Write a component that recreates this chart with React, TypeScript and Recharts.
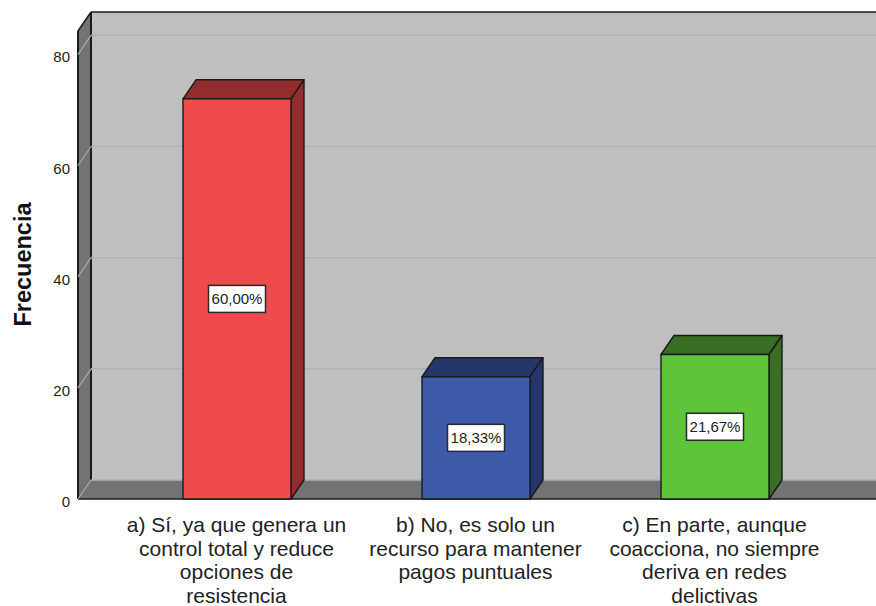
import React from "react";
import { BarChart, Bar, XAxis, YAxis, CartesianGrid, LabelList, usePlotArea } from "recharts";

const categories = [
  "a) Sí, ya que genera un\ncontrol total y reduce\nopciones de\nresistencia",
  "b) No, es solo un\nrecurso para mantener\npagos puntuales",
  "c) En parte, aunque\ncoacciona, no siempre\nderiva en redes\ndelictivas",
];
const frequencies = [72, 22, 26];
const percentLabels = ["60,00%", "18,33%", "21,67%"];
const yTicks = [0, 20, 40, 60, 80];

const rows = categories.map((category, i) => ({
  category,
  frequency: frequencies[i],
  percent: percentLabels[i],
}));

const FRONT = ["#ef4b4d", "#3e5ba9", "#5ec43a"];
const SIDE = ["#922c2d", "#25366a", "#386f22"];
const DX = 13;
const DY = 19;
const FONT = "'Liberation Sans', Arial, sans-serif";
const INK = "#1a1a1a";

function Walls() {
  const area = usePlotArea();
  if (!area) return null;
  const { x, y, width, height } = area;
  const r = x + width;
  const b = y + height;
  const bx = x + DX;
  const ty = y - DY;
  const fy = b - DY;
  return (
    <g>
      <rect x={bx} y={ty} width={r - bx} height={fy - ty} fill="#bfbfbf" />
      <polygon points={`${x},${y} ${bx},${ty} ${bx},${fy} ${x},${b}`} fill="#737373" />
      <polygon points={`${x},${b} ${bx},${fy} ${r},${fy} ${r},${b}`} fill="#737373" />
      <line x1={bx} y1={ty} x2={r} y2={ty} stroke={INK} strokeWidth={1.5} />
      <line x1={bx} y1={ty} x2={bx} y2={fy} stroke={INK} strokeWidth={2} />
      <line x1={x} y1={y} x2={bx} y2={ty} stroke={INK} strokeWidth={1.5} />
      <line x1={x} y1={y} x2={x} y2={b} stroke={INK} strokeWidth={2} />
      <line x1={x} y1={b} x2={r} y2={b} stroke={INK} strokeWidth={1.5} />
    </g>
  );
}

function GridLine(props: any) {
  const { x1, x2, y1 } = props;
  return (
    <g>
      <line x1={x1} y1={y1} x2={x1 + DX} y2={y1 - DY} stroke="#a9a9a9" strokeWidth={1.2} />
      <line x1={x1 + DX} y1={y1 - DY} x2={x2} y2={y1 - DY} stroke="#b2b2b2" strokeWidth={1.5} />
    </g>
  );
}

function Box3D(props: any) {
  const { x, y, width, height, index } = props;
  const r = x + width;
  const b = y + height;
  const line = { stroke: INK, strokeWidth: 1.4, strokeLinejoin: "round" as const };
  return (
    <g>
      <polygon points={`${x},${y} ${x + DX},${y - DY} ${r + DX},${y - DY} ${r},${y}`} fill={SIDE[index]} {...line} />
      <polygon points={`${r},${y} ${r + DX},${y - DY} ${r + DX},${b - DY} ${r},${b}`} fill={SIDE[index]} {...line} />
      <rect x={x} y={y} width={width} height={height} fill={FRONT[index]} {...line} />
    </g>
  );
}

function PercentBox(props: any) {
  const { x, y, width, height, value } = props;
  const cx = x + width / 2;
  const cy = y + height / 2;
  return (
    <g>
      <rect x={cx - 28.5} y={cy - 13.5} width={57} height={27} fill="#ffffff" stroke="#2a2a2a" strokeWidth={1.5} />
      <text x={cx} y={cy + 5.5} textAnchor="middle" fontFamily={FONT} fontSize={15} fill="#222222">
        {value}
      </text>
    </g>
  );
}

function CategoryTick(props: any) {
  const { x, payload } = props;
  const lines = String(payload.value).split("\n");
  return (
    <text textAnchor="middle" fontFamily={FONT} fontSize={21} fill="#222222">
      {lines.map((l, i) => (
        <tspan key={i} x={x} y={532 + i * 23.7}>
          {l}
        </tspan>
      ))}
    </text>
  );
}

function ValueTick(props: any) {
  const { x, y, payload } = props;
  return (
    <text x={x - 2} y={y + 8} textAnchor="end" fontFamily={FONT} fontSize={15} fill="#222222">
      {payload.value}
    </text>
  );
}

function AxisTitle(props: any) {
  const cy = props.viewBox.y + props.viewBox.height / 2;
  return (
    <text
      transform={`translate(31 ${cy - 0.5}) rotate(-90)`}
      textAnchor="middle"
      fontFamily={FONT}
      fontSize={23.5}
      fontWeight={700}
      fill="#111111"
    >
      {props.value}
    </text>
  );
}

export default function App() {
  return (
    <div style={{ position: "absolute", left: 0, top: 0, width: 876, height: 606 }}>
      <BarChart
        width={876}
        height={606}
        data={rows}
        margin={{ top: 31, right: 0, bottom: 0, left: 0 }}
        barSize={108}
      >
        <Walls />
        <CartesianGrid
          vertical={false}
          zIndex={1}
          horizontal={(p: any) => <GridLine key={p.key} {...p} />}
          syncWithTicks
        />
        <XAxis
          dataKey="category"
          height={107}
          padding={{ left: 39, right: 42 }}
          axisLine={false}
          tickLine={false}
          interval={0}
          tick={<CategoryTick />}
        />
        <YAxis
          width={78}
          domain={[0, 84.2]}
          ticks={yTicks}
          axisLine={false}
          tickLine={false}
          tickMargin={0}
          tick={<ValueTick />}
          label={<AxisTitle value="Frecuencia" />}
        />
        <Bar dataKey="frequency" shape={<Box3D />} isAnimationActive={false}>
          <LabelList dataKey="percent" content={<PercentBox />} />
        </Bar>
      </BarChart>
    </div>
  );
}
